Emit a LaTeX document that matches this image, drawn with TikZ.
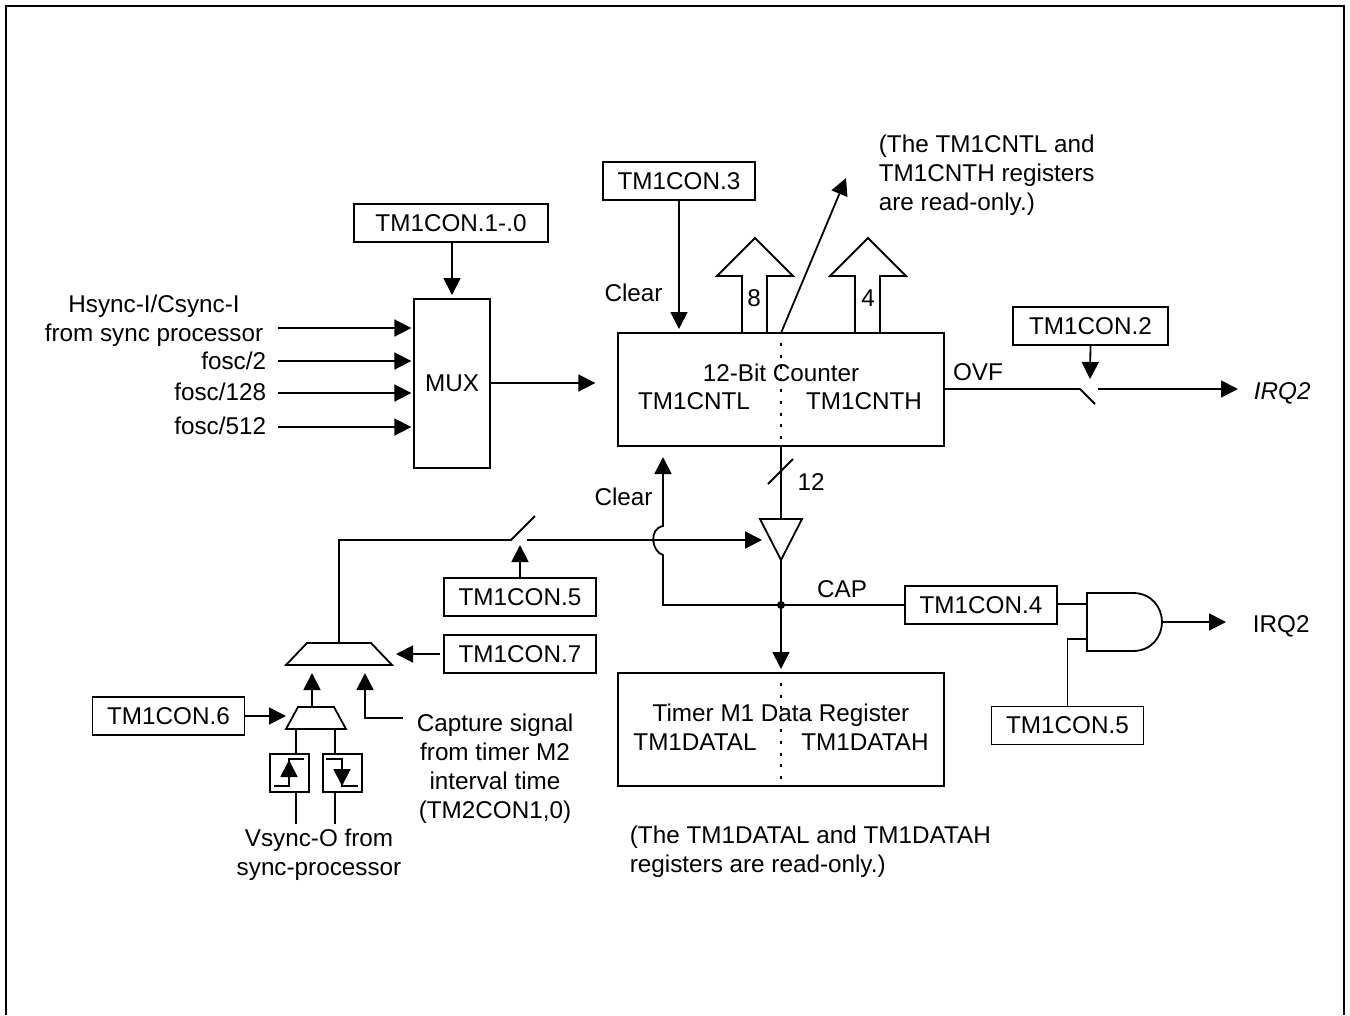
\documentclass[tikz,border=0pt]{standalone}
\usepackage{fontspec}
\setmainfont{Liberation Sans}
\usetikzlibrary{arrows.meta,positioning}

\begin{document}
\begin{tikzpicture}[x=0.75pt,y=-0.75pt,line width=1.35pt,
  font=\fontsize{18.2}{21.75}\selectfont,
  reg/.style={draw,inner sep=0pt,outer sep=0pt,minimum width=114pt,minimum height=28.5pt},
  block/.style={draw,inner sep=0pt,outer sep=0pt,minimum width=244.5pt,minimum height=84.75pt},
  edgebox/.style={draw,inner sep=0pt,outer sep=0pt,minimum width=29pt,minimum height=29pt},
  lbl/.style={inner sep=0pt,align=center},
  arr/.style={-{Triangle[length=12.75pt,width=12.75pt]}},
  dots/.style={dash pattern=on 2.2pt off 6.5pt,dash phase=1.2pt},
  bigarr/.style={line join=miter}]
\useasboundingbox (0,0) rectangle (1350,1015);
\draw (6,1015)--(6,6)--(1344,6)--(1344,1015);
% mux and inputs
\node[draw,inner sep=0pt,outer sep=0pt,minimum width=57pt,minimum height=126.75pt] (mux) at (452,383.5) {MUX};
\node[reg,minimum width=145.5pt] (con10) at (451,223) {TM1CON.1-.0};
\node[lbl] (hsync) at (154,320.5) {Hsync-I/Csync-I\\from sync processor};
\node[lbl,anchor=east] (f2) at (267,361) {fosc/2};
\node[lbl,anchor=east] (f128) at (267,392) {fosc/128};
\node[lbl,anchor=east] (f512) at (267,426) {fosc/512};
\coordinate (in1) at (278,328); \coordinate (in2) at (278,361);
\coordinate (in3) at (278,393); \coordinate (in4) at (278,427);
\draw[arr,shorten >=2pt] (in1)--(in1 -| mux.west); \draw[arr,shorten >=2pt] (in2)--(in2 -| mux.west);
\draw[arr,shorten >=2pt] (in3)--(in3 -| mux.west); \draw[arr,shorten >=2pt] (in4)--(in4 -| mux.west);
\draw[arr,shorten >=3pt] (con10.south -| mux.north)--(mux.north);
% counter
\node[block] (cnt) at (781,389.5) {};
\node[lbl] (cnttitle) at (781,373) {12-Bit Counter};
\node[lbl] (cntl) at (694,401) {TM1CNTL};
\node[lbl] (cnth) at (864,401) {TM1CNTH};
\draw[dots] (cnt.north)--(cnt.south);
\draw[arr,shorten >=17pt] (mux.east |- 0,383)--(cnt.west |- 0,383);
\node[reg] (con3) at (679,181) {TM1CON.3};
\node[lbl] (clr1) at (633.5,293) {Clear};
\draw[arr,shorten >=3pt] (con3.south)--(con3.south |- cnt.north);
\draw[bigarr] (742,333)--(742,276)--(717,276)--(755,238)--(793,276)--(767,276)--(767,333);
\draw[bigarr] (855,333)--(855,276)--(830,276)--(868,238)--(906,276)--(880,276)--(880,333);
\node[lbl] (n8) at (754,298) {8};
\node[lbl] (n4) at (868,298) {4};
\coordinate (rdtip) at (846,178);
\draw[arr] (cnt.north)--(rdtip);
\node[lbl,align=left,anchor=north west] (rdnote) at (878,134.5) {(The TM1CNTL and\\TM1CNTH registers\\are read-only.)};
% overflow
\node[reg,minimum width=116pt] (con2) at (1090.5,326) {TM1CON.2};
\node[lbl] (ovf) at (978,372) {OVF};
\coordinate (ovfa) at (1080,389); \coordinate (ovfb) at (1095,404); \coordinate (ovfc) at (1098,389);
\node[lbl,anchor=west] (irqa) at (1253,393) {\itshape IRQ2};
\draw (cnt.east |- ovfa)--(ovfa)--(ovfb);
\draw[arr] (ovfc)--(1238,389);
\draw[arr] (con2.south)--(1090,379);
% capture buffer
\coordinate (bufa) at (760,519); \coordinate (bufb) at (802,519); \coordinate (bufc) at (781,560);
\draw[line join=miter] (bufa)--(bufb)--(bufc)--cycle;
\draw (cnt.south)--(781,519);
\draw (768,484)--(793,459);
\node[lbl] (n12) at (811,482) {12};
\coordinate (jct) at (781,605);
\draw (bufc)--(jct);
\fill (jct) circle (3pt);
\node[block] (data) at (781,729.5) {};
\node[lbl] (datatitle) at (781,715) {Timer M1 Data Register};
\node[lbl] (datal) at (695,742) {TM1DATAL};
\node[lbl] (datah) at (865,742) {TM1DATAH};
\draw[dots] (data.north)--(data.south);
\draw[arr,shorten >=3pt] (jct)--(data.north);
\node[lbl,align=left,anchor=north west] (datanote) at (629,825) {(The TM1DATAL and TM1DATAH\\registers are read-only.)};
\node[lbl] (cap) at (842,589) {CAP};
\node[lbl] (clr2) at (623.5,497) {Clear};
\draw[arr] (jct)--(663,605)--(663,555) .. controls (652,552) and (648,529) .. (663,526)--(663,457);
% and gate
\node[reg] (con4) at (981,605) {TM1CON.4};
\node[reg] (con5b) at (1067.5,725.5) {TM1CON.5};
\coordinate (anda) at (1087,604); \coordinate (andb) at (1087,639); \coordinate (andout) at (1162,622);
\draw (jct)--(con4.west);
\draw (1087,593)--(1133,593) .. controls (1152,593) and (1162,608) .. (andout) .. controls (1162,636) and (1152,651) .. (1133,651)--(1087,651)--cycle;
\draw (con4.east |- anda)--(anda);
\draw (con5b.north)--(con5b.north |- andb)--(andb);
\draw[arr] (andout)--(1226,622);
\node[lbl,anchor=west] (irqb) at (1252,626) {IRQ2};
% capture source select
\node[reg] (con5a) at (520,597) {TM1CON.5};
\node[reg,below=14.25pt of con5a] (con7) {TM1CON.7};
\node[reg] (con6) at (168.5,716) {TM1CON.6};
\draw (307,643)--(371,643)--(392,665)--(286,665)--cycle;
\draw (298,707)--(334,707)--(346,729)--(286,729)--cycle;
\coordinate (swa) at (511,540); \coordinate (swb) at (535,516); \coordinate (swc) at (527,540);
\draw (339,643)--(339,540)--(swa)--(swb);
\draw[arr] (swc)--(762,540);
\draw[arr] (con5a.north)--(520,545);
\draw[arr,shorten <=3pt] (con7.west)--(396,654);
\draw[arr] (con6.east)--(286,716);
\draw[arr] (312,707)--(312,673);
\coordinate (capt) at (403,718);
\draw[arr] (capt)--(365,718)--(365,673);
\node[lbl] (capnote) at (495,768.5) {Capture signal\\from timer M2\\interval time\\(TM2CON1,0)};
\node[edgebox] (rise) at (289.5,773) {};
\node[edgebox] (fall) at (342.5,773) {};
\draw (296,729)--(296,754); \draw (335,729)--(335,754);
\draw (296,792)--(296,824); \draw (335,792)--(335,824);
\draw (274,786)--(289,786)--(289,759)--(304,759);
\draw[arr] (289,786)--(289,760);
\draw (326,759)--(342,759)--(342,786)--(358,786);
\draw[arr] (342,759)--(342,786);
\node[lbl] (vsync) at (319,854.5) {Vsync-O from\\sync-processor};
\end{tikzpicture}
\end{document}
